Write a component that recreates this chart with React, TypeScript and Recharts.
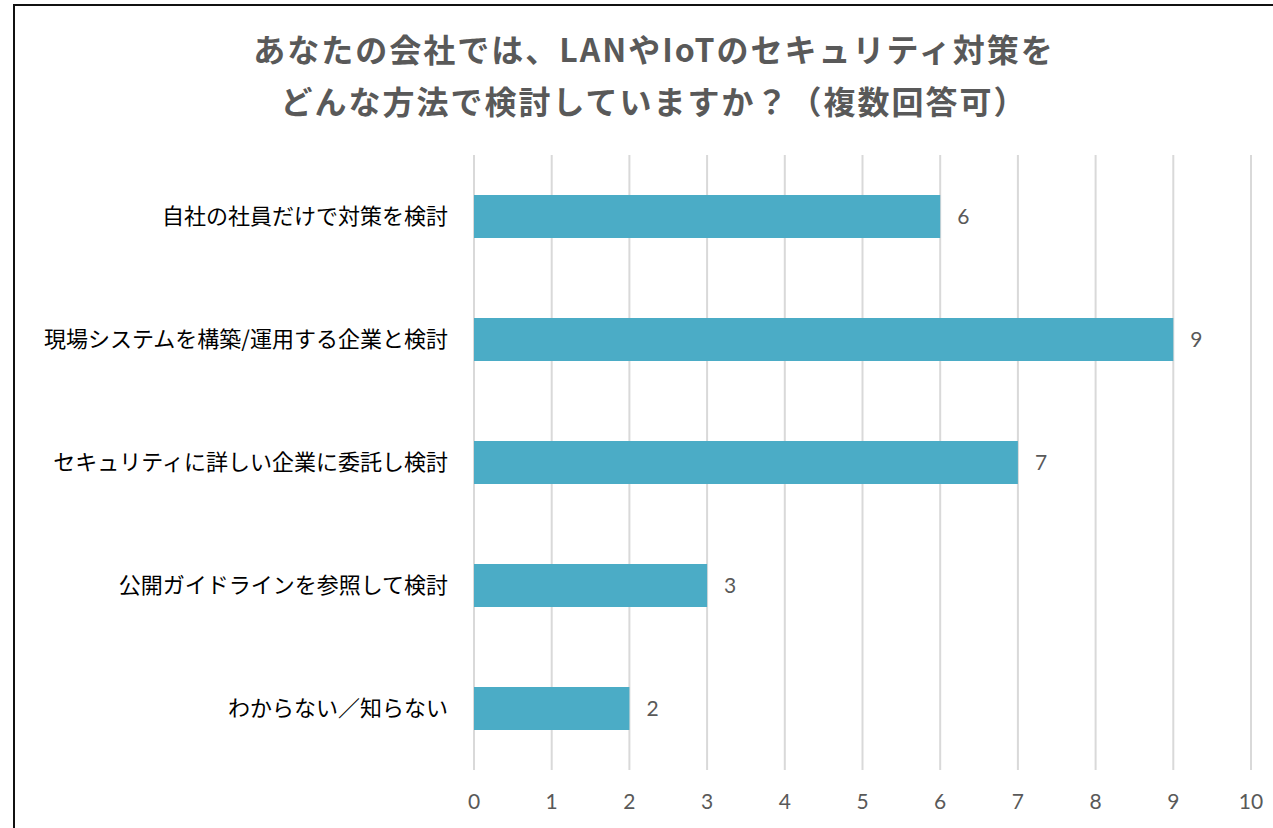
import { BarChart, Bar, XAxis, YAxis, CartesianGrid, LabelList } from 'recharts';

const categories = [
    '自社の社員だけで対策を検討',
    '現場システムを構築/運用する企業と検討',
    'セキュリティに詳しい企業に委託し検討',
    '公開ガイドラインを参照して検討',
    'わからない／知らない',
];
const counts = [6, 9, 7, 3, 2];
const xTicks = [0, 1, 2, 3, 4, 5, 6, 7, 8, 9, 10];
const titleLines = ['あなたの会社では、LANやIoTのセキュリティ対策を', 'どんな方法で検討していますか？（複数回答可）'];

const jp = '"Noto Sans CJK JP", "Noto Sans", sans-serif';
const num = 'Lato, "Open Sans", sans-serif';

export default function App() {
    const data = categories.map((name, i) => ({ name, count: counts[i] }));

    return (
        <div style={{ position: 'fixed', inset: 0, overflow: 'hidden', background: '#fff' }}>
            {/* chart frame, runs off the right and bottom edges */}
            <div style={{ position: 'absolute', left: 13, top: 4, width: 1400, height: 900, border: '2px solid #111' }} />
            <div style={{ position: 'absolute', left: 0, top: 22, width: 1308, textAlign: 'center', fontFamily: jp, fontWeight: 700, fontSize: 32, lineHeight: '52px', color: '#595959' }}>
                <div style={{ letterSpacing: 2 }}>{titleLines[0]}</div>
                <div style={{ letterSpacing: 2 }}>{titleLines[1]}</div>
            </div>
            <div style={{ position: 'absolute', left: 0, top: 0 }}>
                <BarChart
                    width={1273}
                    height={828}
                    data={data}
                    layout="vertical"
                    margin={{ top: 155, right: 22, bottom: 0, left: 0 }}
                >
                    <CartesianGrid horizontal={false} stroke="#d9d9d9" strokeWidth={2} />
                    <XAxis
                        type="number"
                        domain={[0, 10]}
                        ticks={xTicks}
                        axisLine={false}
                        tickLine={false}
                        height={58}
                        tickMargin={18}
                        tick={{ fill: '#595959', fontSize: 21, fontFamily: num }}
                    />
                    <YAxis
                        type="category"
                        dataKey="name"
                        width={474}
                        axisLine={false}
                        tickLine={false}
                        tickMargin={20}
                        tick={{ fill: '#000', fontSize: 22, fontFamily: jp }}
                    />
                    <Bar dataKey="count" fill="#4bacc6" barSize={43} isAnimationActive={false}>
                        <LabelList dataKey="count" position="right" offset={17} fill="#595959" fontSize={21} fontFamily={num} />
                    </Bar>
                </BarChart>
            </div>
        </div>
    );
}
